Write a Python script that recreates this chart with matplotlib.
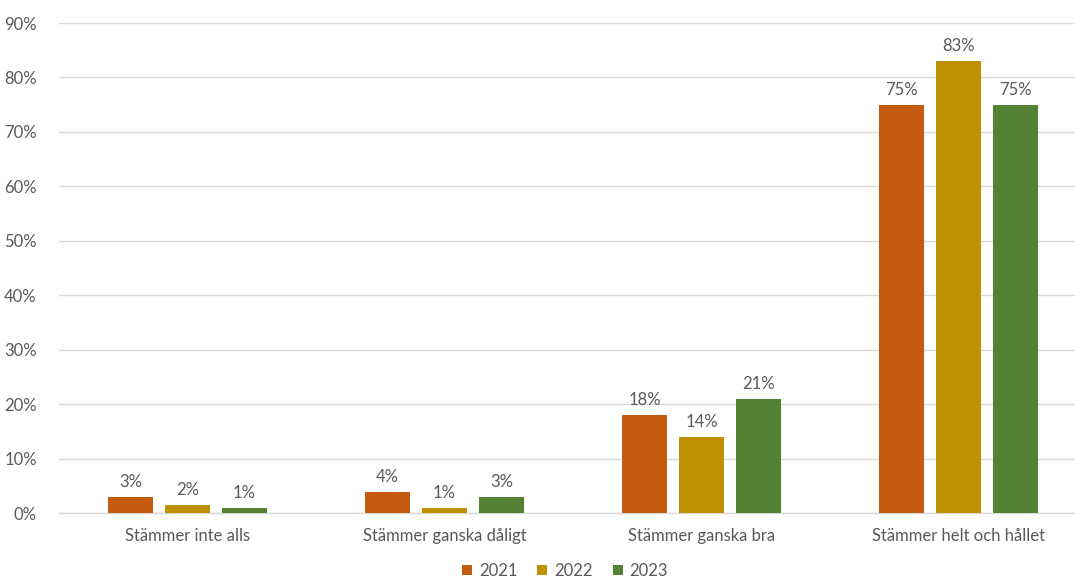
import matplotlib
matplotlib.use("Agg")
import matplotlib.pyplot as plt
import numpy as np

categories = ["Stämmer inte alls", "Stämmer ganska dåligt", "Stämmer ganska bra", "Stämmer helt och hållet"]
years = ["2021", "2022", "2023"]
v2021 = [2.9, 3.9, 18.0, 75.0]
v2022 = [1.5, 0.9, 14.0, 83.0]
v2023 = [0.9, 2.9, 21.0, 75.0]
lab2021 = ["3%", "4%", "18%", "75%"]
lab2022 = ["2%", "1%", "14%", "83%"]
lab2023 = ["1%", "3%", "21%", "75%"]
yticks = [0, 10, 20, 30, 40, 50, 60, 70, 80, 90]

colors = ["#C55A11", "#BF9000", "#548235"]
txt = "#595959"
plt.rcParams['font.family'] = ['Lato', 'DejaVu Sans']

W, H = 1075, 578
fig = plt.figure(figsize=(W/100, H/100), dpi=100)
left, right, top, bottom = 59, 1087, 23, 513
ax = fig.add_axes([left/W, 1-bottom/H, (right-left)/W, (bottom-top)/H])

x = np.arange(len(categories))
bw = 0.173
pitch = 0.222
series = [v2021, v2022, v2023]
labels = [lab2021, lab2022, lab2023]
for i, (vals, labs) in enumerate(zip(series, labels)):
    pos = x + (i-1)*pitch
    bars = ax.bar(pos, vals, width=bw, color=colors[i], label=years[i], zorder=3)
    for b, l in zip(bars, labs):
        ax.annotate(l, (b.get_x()+b.get_width()/2, b.get_height()),
                    xytext=(0, 5), textcoords="offset points", ha="center", va="bottom",
                    fontsize=12, color=txt)

ax.set_xlim(-0.5, len(categories)-0.5)
ax.set_ylim(0, 90)
ax.set_yticks(yticks)
ax.set_yticklabels([f"{t}%" for t in yticks])
ax.set_xticks(x)
ax.set_xticklabels(categories)
ax.tick_params(axis='both', length=0, labelsize=12, labelcolor=txt)
ax.tick_params(axis='y', pad=16)
ax.tick_params(axis='x', pad=11)
ax.grid(axis='y', color="#D9D9D9", linewidth=1, zorder=0)
for s in ["top", "right", "left"]:
    ax.spines[s].set_visible(False)
ax.spines["bottom"].set_color("#D9D9D9")
ax.spines["bottom"].set_linewidth(1)

handles, lbls = ax.get_legend_handles_labels()
fig.legend(handles, lbls, loc="center", bbox_to_anchor=(565/W, 1-571/H), ncol=3,
           frameon=False, fontsize=12, labelcolor=txt, handlelength=0.6, handleheight=0.6,
           handletextpad=0.4, columnspacing=1.2)

fig.savefig("out.png", dpi=100)
